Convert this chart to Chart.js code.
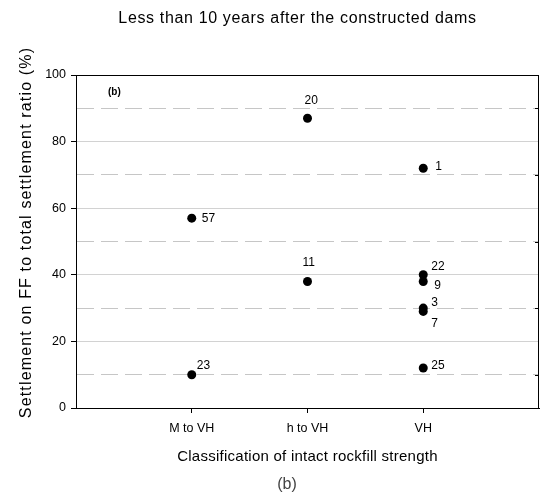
<!DOCTYPE html>
<html>
<head>
<meta charset="utf-8">
<script src="https://cdn.jsdelivr.net/npm/chart.js@4.4.0/dist/chart.umd.min.js"></script>
<style>
  html, body { margin: 0; padding: 0; background: #fff; }
  #wrap { width: 544px; height: 501px; position: relative; }
</style>
</head>
<body>
<div id="wrap"><canvas id="settlementChart"></canvas></div>
<script>
// strength classes on the x axis
const categories = ["M to VH", "h to VH", "VH"];
// each dam: which class it belongs to, its ratio (%) and its dam number
const pointCategory = [0, 0, 1, 1, 2, 2, 2, 2, 2, 2];
const pointValues = [57, 10, 87, 38, 72, 40, 38, 30, 29, 12];
const pointLabels = ["57", "23", "20", "11", "1", "22", "9", "3", "7", "25"];
// y-axis ticks: labelled every 20, dashed grid in between
const yTicks = [0, 20, 40, 60, 80, 100];

// where each dam number sits relative to its dot (px)
const labelOffsets = [[10, 0], [5, -9], [-3, -18], [-5, -19], [12, -2], [8, -8], [11, 4], [8, -5], [8, 12], [8, -2]];

const FONT = "'Liberation Sans', Arial, sans-serif";
const TITLE = "Less than 10 years after the constructed dams";
const X_TITLE = "Classification of intact rockfill strength";
const Y_TITLE = "Settlement on FF to total settlement ratio (%)";

const points = pointValues.map((v, i) => ({ x: pointCategory[i] + 1, y: v }));

const isMinor = ctx => ctx.tick && !yTicks.includes(ctx.tick.value);

const decorations = {
  id: "decorations",
  afterDatasetsDraw(chart) {
    const { ctx, chartArea: a } = chart;
    const meta = chart.getDatasetMeta(0);
    const midX = (a.left + a.right) / 2;
    ctx.save();

    // dam numbers next to the dots
    ctx.fillStyle = "#000";
    ctx.font = "12px " + FONT;
    ctx.textAlign = "left";
    ctx.textBaseline = "middle";
    meta.data.forEach((el, i) => {
      const [dx, dy] = labelOffsets[i];
      ctx.fillText(pointLabels[i], el.x + dx, el.y + dy);
    });

    // frame round the plot
    ctx.strokeStyle = "#000";
    ctx.lineWidth = 1;
    ctx.strokeRect(a.left + 0.5, a.top + 0.5, a.right - a.left - 1, a.bottom - a.top);

    // small inward ticks on the right edge at the dashed lines
    const y = chart.scales.y;
    y.ticks.forEach(t => {
      if (yTicks.includes(t.value)) return;
      const py = Math.round(y.getPixelForValue(t.value)) + 0.5;
      ctx.beginPath();
      ctx.moveTo(a.right - 4, py);
      ctx.lineTo(a.right, py);
      ctx.stroke();
    });

    // panel tag
    ctx.font = "bold 10px " + FONT;
    ctx.fillText("(b)", a.left + 32, a.top + 17);

    // heading, axis titles and caption
    ctx.textAlign = "center";
    ctx.textBaseline = "alphabetic";
    ctx.font = "16px " + FONT;
    ctx.letterSpacing = "0.65px";
    ctx.fillText(TITLE, midX - 10, 23);

    ctx.font = "15px " + FONT;
    ctx.letterSpacing = "0.25px";
    ctx.fillText(X_TITLE, midX, 461);

    ctx.save();
    ctx.translate(31, (a.top + a.bottom) / 2 - 9);
    ctx.rotate(-Math.PI / 2);
    ctx.font = "16px " + FONT;
    ctx.letterSpacing = "1.15px";
    ctx.fillText(Y_TITLE, 0, 0);
    ctx.restore();

    ctx.letterSpacing = "0px";
    ctx.font = "16px " + FONT;
    ctx.fillStyle = "#444";
    ctx.textBaseline = "middle";
    ctx.fillText("(b)", 287, 485);
    ctx.restore();
  }
};

new Chart(document.getElementById("settlementChart"), {
  type: "scatter",
  data: {
    datasets: [{
      data: points,
      backgroundColor: "#000",
      borderWidth: 0,
      pointRadius: 4.5,
      pointHoverRadius: 4.5
    }]
  },
  options: {
    responsive: true,
    maintainAspectRatio: false,
    animation: false,
    layout: { padding: { top: 75, right: 5, bottom: 0, left: 0 } },
    plugins: { legend: { display: false }, tooltip: { enabled: false } },
    scales: {
      x: {
        type: "linear",
        min: 0,
        max: categories.length + 1,
        afterBuildTicks: s => { s.ticks = categories.map((c, i) => ({ value: i + 1 })); },
        afterFit: s => { s.height = 93; },
        ticks: {
          callback: v => categories[v - 1] ?? "",
          color: "#000",
          font: { family: FONT, size: 12.5 },
          padding: 8,
          maxRotation: 0,
          autoSkip: false
        },
        grid: { color: "transparent", tickColor: "#000", tickLength: 5 },
        border: { color: "#000" }
      },
      y: {
        min: 0,
        max: 100,
        afterFit: s => { s.width = 76; },
        ticks: {
          stepSize: 10,
          color: "#000",
          font: { family: FONT, size: 12.5 },
          padding: 5,
          callback: v => yTicks.includes(v) ? v : ""
        },
        grid: {
          color: ctx => isMinor(ctx) ? "#c6c6c6" : "#d2d2d2",
          tickColor: ctx => isMinor(ctx) ? "transparent" : "#000",
          tickLength: 5
        },
        border: {
          color: "#000",
          dash: ctx => isMinor(ctx) ? [17, 7] : []
        }
      }
    }
  },
  plugins: [decorations]
});
</script>
</body>
</html>
